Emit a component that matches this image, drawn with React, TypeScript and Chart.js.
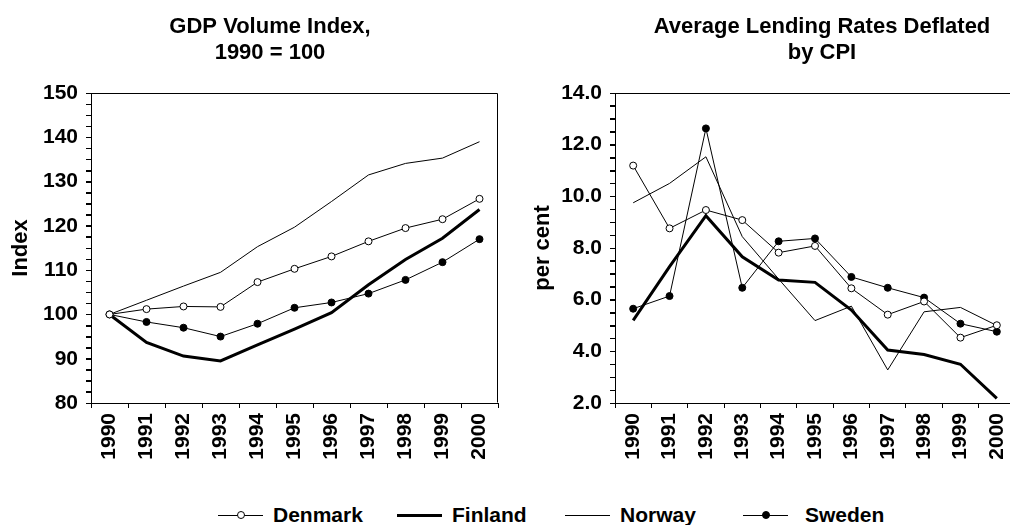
import React, { useEffect, useRef } from 'react';
import { Chart, registerables } from 'chart.js';

Chart.register(...registerables);

const FONT = '"Liberation Sans", Arial, Helvetica, sans-serif';

// ---------- data ----------
const years = ['1990', '1991', '1992', '1993', '1994', '1995', '1996', '1997', '1998', '1999', '2000'];

const gdpDenmark = [100, 101.2, 101.8, 101.7, 107.3, 110.3, 113.1, 116.5, 119.5, 121.5, 126.1];
const gdpFinland = [100, 93.7, 90.6, 89.5, 93.1, 96.7, 100.4, 106.7, 112.4, 117.2, 123.7];
const gdpNorway = [100, 103.2, 106.4, 109.5, 115.3, 119.7, 125.5, 131.5, 134.1, 135.3, 139.0];
const gdpSweden = [100, 98.3, 97.0, 95.0, 97.9, 101.5, 102.7, 104.7, 107.8, 111.8, 117.0];

const rateDenmark = [11.19, 8.76, 9.47, 9.08, 7.82, 8.08, 6.44, 5.42, 5.93, 4.53, 5.01];
const rateFinland = [5.2, 7.28, 9.25, 7.66, 6.76, 6.67, 5.6, 4.05, 3.88, 3.5, 2.18];
const rateNorway = [9.75, 10.5, 11.53, 8.44, 6.8, 5.19, 5.75, 3.28, 5.53, 5.7, 5.0];
const rateSweden = [5.65, 6.14, 12.63, 6.46, 8.26, 8.37, 6.88, 6.46, 6.08, 5.07, 4.76];

const seriesNames = ['Denmark', 'Finland', 'Norway', 'Sweden'];

const leftTitle = ['GDP Volume Index,', '1990 = 100'];
const rightTitle = ['Average Lending Rates Deflated', 'by CPI'];
const leftAxisTitle = 'Index';
const rightAxisTitle = 'per cent';

// ---------- styles ----------
const seriesStyles = [
  { borderWidth: 1, pointRadius: 3.5, pointBackgroundColor: '#fff' },
  { borderWidth: 3, pointRadius: 0, pointBackgroundColor: '#000' },
  { borderWidth: 1, pointRadius: 0, pointBackgroundColor: '#000' },
  { borderWidth: 1, pointRadius: 3.5, pointBackgroundColor: '#000' },
];

const twoLineTitle = {
  id: 'twoLineTitle',
  afterDraw(chart: any, _args: any, opts: any) {
    const ctx = chart.ctx;
    ctx.save();
    ctx.font = `bold 22px ${FONT}`;
    ctx.fillStyle = '#000';
    ctx.textAlign = 'center';
    ctx.textBaseline = 'alphabetic';
    (opts.lines || []).forEach((l: string, i: number) => {
      ctx.fillText(l, opts.x, opts.y + i * opts.gap);
    });
    ctx.restore();
  },
};

const plotBox = {
  id: 'plotBox',
  beforeDatasetsDraw(chart: any) {
    const { ctx, chartArea: a } = chart;
    ctx.save();
    ctx.strokeStyle = '#000';
    ctx.lineWidth = 1;
    const l = Math.round(a.left) + 0.5;
    const t = Math.round(a.top) + 0.5;
    const r = Math.round(a.right) - 0.5;
    const b = Math.round(a.bottom) - 0.5;
    ctx.beginPath();
    ctx.moveTo(l, b);
    ctx.lineTo(l, t);
    ctx.lineTo(r, t);
    ctx.lineTo(r, b);
    ctx.stroke();
    ctx.restore();
  },
};

// Minor tick marks on the y axis, positioned through the library's own scale
const minorTicks = {
  id: 'minorTicks',
  afterDraw(chart: any, _args: any, opts: any) {
    const s = chart.scales.y;
    if (!s) return;
    const { ctx } = chart;
    ctx.save();
    ctx.strokeStyle = '#000';
    ctx.lineWidth = 1;
    const x = Math.round(s.right);
    const n = Math.round((s.max - s.min) / opts.step);
    ctx.beginPath();
    for (let i = 0; i <= n; i++) {
      const y = Math.round(s.getPixelForValue(s.min + i * opts.step)) + 0.5;
      ctx.moveTo(x - 5, y);
      ctx.lineTo(x, y);
    }
    ctx.stroke();
    ctx.restore();
  },
};

function buildDatasets(values: number[][]) {
  return values.map((v, i) => ({
    label: seriesNames[i],
    data: v,
    borderColor: '#000',
    borderWidth: seriesStyles[i].borderWidth,
    pointRadius: seriesStyles[i].pointRadius,
    pointBackgroundColor: seriesStyles[i].pointBackgroundColor,
    pointBorderColor: '#000',
    pointBorderWidth: 1,
    tension: 0,
    fill: false,
  }));
}

function buildConfig(opts: {
  values: number[][];
  min: number;
  max: number;
  step: number;
  major: number;
  decimals: number;
  axisTitle: string;
  axisTitlePad: number;
  yWidth: number;
  padRight: number;
  title: string[];
  titleX: number;
}): any {
  const tickFont = { family: FONT, size: 21, weight: 'bold' as const };
  return {
    type: 'line',
    data: { labels: years, datasets: buildDatasets(opts.values) },
    plugins: [plotBox, twoLineTitle, minorTicks],
    options: {
      responsive: false,
      animation: false,
      layout: { padding: { top: 93, left: 0, right: opts.padRight, bottom: 0 } },
      plugins: {
        legend: { display: false },
        tooltip: { enabled: false },
        title: { display: false },
        twoLineTitle: { lines: opts.title, x: opts.titleX, y: 33, gap: 26 },
        minorTicks: { step: opts.step },
      },
      scales: {
        x: {
          type: 'category',
          offset: true,
          grid: {
            offset: true,
            drawOnChartArea: false,
            drawTicks: true,
            tickLength: 5,
            color: '#000',
            lineWidth: 1,
          },
          border: { color: '#000', width: 1 },
          ticks: {
            color: '#000',
            font: tickFont,
            maxRotation: 90,
            minRotation: 90,
            padding: 5,
            autoSkip: false,
          },
          afterFit: (s: any) => {
            s.height = 67;
            s.paddingLeft = 0;
            s.paddingRight = 0;
          },
        },
        y: {
          type: 'linear',
          min: opts.min,
          max: opts.max,
          grid: {
            drawOnChartArea: false,
            drawTicks: true,
            tickLength: 5,
            color: '#000',
            lineWidth: 1,
          },
          border: { color: '#000', width: 1 },
          ticks: {
            stepSize: opts.step,
            autoSkip: false,
            maxTicksLimit: 200,
            color: '#000',
            font: tickFont,
            padding: 8,
            callback: (v: number) => {
              const r = v / opts.major;
              return Math.abs(r - Math.round(r)) < 1e-6 ? v.toFixed(opts.decimals) : '';
            },
          },
          title: {
            display: true,
            text: opts.axisTitle,
            color: '#000',
            font: { family: FONT, size: 22, weight: 'bold' },
            padding: { top: opts.axisTitlePad, bottom: 0 },
          },
          afterFit: (s: any) => {
            s.width = opts.yWidth;
            s.paddingTop = 0;
            s.paddingBottom = 0;
          },
        },
      },
    },
  };
}

function ChartCanvas({ config, width, height, left }: { config: any; width: number; height: number; left: number }) {
  const ref = useRef<HTMLCanvasElement | null>(null);
  useEffect(() => {
    if (!ref.current) return;
    const chart = new Chart(ref.current, config);
    return () => chart.destroy();
  }, [config]);
  return (
    <canvas
      ref={ref}
      width={width}
      height={height}
      style={{ position: 'absolute', left, top: 0, width, height }}
    />
  );
}

const leftConfig = buildConfig({
  values: [gdpDenmark, gdpFinland, gdpNorway, gdpSweden],
  min: 80,
  max: 150,
  step: 2.5,
  major: 10,
  decimals: 0,
  axisTitle: leftAxisTitle,
  axisTitlePad: 8,
  yWidth: 91,
  padRight: 7,
  title: leftTitle,
  titleX: 270,
});

const rightConfig = buildConfig({
  values: [rateDenmark, rateFinland, rateNorway, rateSweden],
  min: 2,
  max: 14,
  step: 0.5,
  major: 2,
  decimals: 1,
  axisTitle: rightAxisTitle,
  axisTitlePad: 25,
  yWidth: 110,
  padRight: 3,
  title: rightTitle,
  titleX: 317,
});

const legendLayout = [
  { symLeft: 218, textLeft: 273 },
  { symLeft: 397, textLeft: 452 },
  { symLeft: 565, textLeft: 620 },
  { symLeft: 743, textLeft: 805 },
];

function LegendSymbol({ idx, left }: { idx: number; left: number }) {
  const st = seriesStyles[idx];
  const lw = st.borderWidth;
  return (
    <div style={{ position: 'absolute', left, top: 515 - 10, width: 45, height: 20 }}>
      <div
        style={{
          position: 'absolute',
          left: 0,
          top: 10 - lw / 2,
          width: 45,
          height: lw,
          background: '#000',
        }}
      />
      {st.pointRadius > 0 && (
        <div
          style={{
            position: 'absolute',
            left: 22.5 - st.pointRadius - 0.5,
            top: 10 - st.pointRadius - 0.5,
            width: st.pointRadius * 2 + 1,
            height: st.pointRadius * 2 + 1,
            boxSizing: 'border-box',
            borderRadius: '50%',
            border: '1px solid #000',
            background: st.pointBackgroundColor,
          }}
        />
      )}
    </div>
  );
}

export default function App() {
  return (
    <div
      style={{
        position: 'absolute',
        left: 0,
        top: 0,
        width: 1010,
        height: 525,
        overflow: 'hidden',
        background: '#fff',
      }}
    >
      <ChartCanvas config={leftConfig} width={505} height={470} left={0} />
      <ChartCanvas config={rightConfig} width={515} height={470} left={505} />
      {seriesNames.map((name, i) => (
        <React.Fragment key={name}>
          <LegendSymbol idx={i} left={legendLayout[i].symLeft} />
          <div
            style={{
              position: 'absolute',
              left: legendLayout[i].textLeft,
              top: 503,
              fontFamily: FONT,
              fontWeight: 'bold',
              fontSize: 21,
              lineHeight: '24px',
              color: '#000',
              whiteSpace: 'nowrap',
            }}
          >
            {name}
          </div>
        </React.Fragment>
      ))}
    </div>
  );
}
